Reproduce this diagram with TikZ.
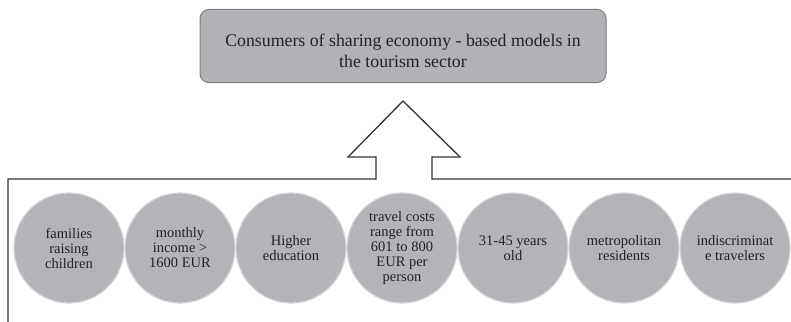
\documentclass[tikz,border=0pt]{standalone}
\usepackage{fontspec}
\setmainfont{Liberation Serif}
\definecolor{boxfill}{HTML}{B1B2B5}
\definecolor{boxdraw}{HTML}{7C7C7E}
\definecolor{circfill}{HTML}{B3B4B7}
\definecolor{circedge}{HTML}{D4D5D7}
\definecolor{txt}{HTML}{222222}
\definecolor{linec}{HTML}{333333}
\tikzset{
  topbox/.style={draw=boxdraw, line width=1pt, fill=boxfill, rounded corners=9pt,
    minimum width=406pt, minimum height=73pt, inner sep=0pt},
  toptext/.style={align=center,
    font=\fontsize{17.8}{21.5}\selectfont, text=txt, inner sep=0pt},
  group/.style={circle, fill=circfill, draw=circedge, line width=1.2pt,
    minimum size=110pt, inner sep=0pt, align=center,
    font=\fontsize{14.5}{15}\selectfont, text=txt},
  outline/.style={draw=linec, line width=1.3pt}
}
\begin{document}
\begin{tikzpicture}[x=1pt,y=-1pt]
\useasboundingbox (0,0) rectangle (791,321);
\node[topbox] (top) at (403,46) {};
\node[toptext] (toplabel) at (403,51) {Consumers of sharing economy - based models in\\the tourism sector};
\coordinate (bl) at (8,322);
\coordinate (al) at (8,179);
\coordinate (ar) at (792,179);
\draw[outline] (bl) -- (al) -- (376,179) -- (376,157) -- (348,157) -- (403,101)
  -- (460,157) -- (432,157) -- (432,179) -- (ar);
\node[group] (c1) at (69,248) {families\\raising\\children};
\node[group] (c2) at (180,248) {monthly\\income >\\1600 EUR};
\node[group] (c3) at (291,248) {Higher\\education};
\node[group] (c4) at (402,248) {travel costs\\range from\\601 to 800\\EUR per\\person};
\node[group] (c5) at (513,248) {31-45 years\\old};
\node[group] (c6) at (624,248) {metropolitan\\residents};
\node[group] (c7) at (735,248) {indiscriminat\\e travelers};
\end{tikzpicture}
\end{document}
